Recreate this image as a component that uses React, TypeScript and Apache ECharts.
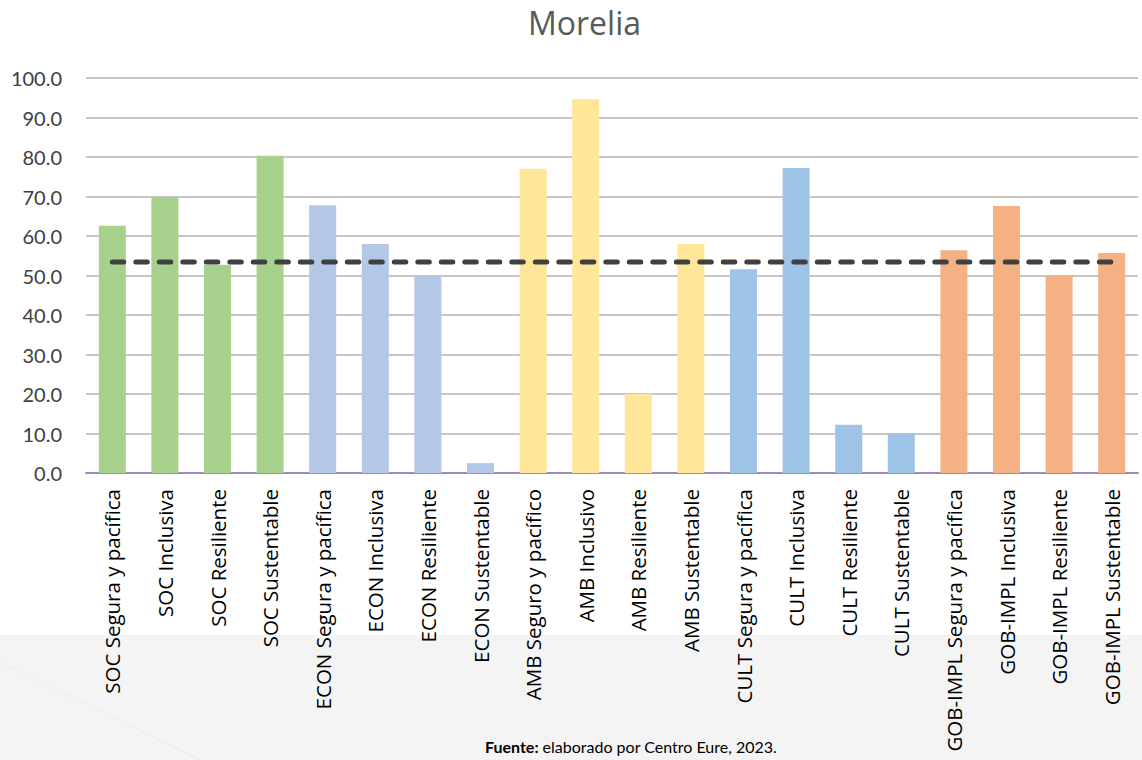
import React, { useEffect, useRef } from "react";
import * as echarts from "echarts";

const categories = [
  "SOC Segura y pacífica",
  "SOC Inclusiva",
  "SOC Resiliente",
  "SOC Sustentable",
  "ECON Segura y pacífica",
  "ECON Inclusiva",
  "ECON Resiliente",
  "ECON Sustentable",
  "AMB Seguro y pacífico",
  "AMB Inclusivo",
  "AMB Resiliente",
  "AMB Sustentable",
  "CULT Segura y pacífica",
  "CULT Inclusiva",
  "CULT Resiliente",
  "CULT Sustentable",
  "GOB-IMPL Segura y pacífica",
  "GOB-IMPL Inclusiva",
  "GOB-IMPL Resiliente",
  "GOB-IMPL Sustentable",
];

const scores = [
  62.6, 69.9, 52.7, 80.3,
  67.8, 58.0, 50.1, 2.5,
  77.0, 94.6, 20.0, 58.0,
  51.6, 77.2, 12.2, 10.0,
  56.4, 67.6, 50.0, 55.7,
];

const averageLine = [
  53.4, 53.4, 53.4, 53.4, 53.4, 53.4, 53.4, 53.4, 53.4, 53.4,
  53.4, 53.4, 53.4, 53.4, 53.4, 53.4, 53.4, 53.4, 53.4, 53.4,
];

// one colour per dimension, four indicators each
const dimensionColors = ["#A9D18E", "#B4C7E7", "#FFE699", "#9DC3E6", "#F4B183"];

const yTicks = { min: 0, max: 100, interval: 10 };

const FONT = "'Open Sans', 'Noto Sans', sans-serif";
const NUM_FONT = "Lato, 'Open Sans', sans-serif";

export default function App() {
  const ref = useRef<HTMLDivElement>(null);

  useEffect(() => {
    document.body.style.margin = "0";
    const chart = echarts.init(ref.current!, null, { renderer: "svg" });
    chart.setOption({
      animation: false,
      backgroundColor: "#ffffff",
      textStyle: { fontFamily: FONT },
      title: {
        text: "Morelia",
        left: 523,
        top: 1,
        textStyle: { fontSize: 32, fontWeight: "normal", color: "#595959", fontFamily: FONT },
      },
      graphic: [
        {
          type: "rect",
          z: -10,
          silent: true,
          shape: { x: 0, y: 635, width: 1142, height: 125 },
          style: { fill: "#f4f4f4" },
        },
        {
          type: "line",
          z: -9,
          silent: true,
          shape: { x1: 0, y1: 662, x2: 200, y2: 760 },
          style: { stroke: "#ebebeb", lineWidth: 1 },
        },
        {
          type: "text",
          left: 485,
          top: 738,
          style: {
            text: "{b|Fuente:} elaborado por Centro Eure, 2023.",
            rich: {
              b: { fontWeight: "bold", fontSize: 16, fill: "#000", fontFamily: NUM_FONT },
            },
            fontSize: 16,
            fill: "#000",
            fontFamily: NUM_FONT,
          },
        },
      ],
      grid: { left: 86, right: 4, top: 78, bottom: 287, containLabel: false },
      xAxis: {
        type: "category",
        data: categories,
        axisLine: { show: true, lineStyle: { color: "#9E8BC2", width: 2 } },
        axisTick: { show: false },
        axisLabel: {
          interval: 0,
          rotate: 90,
          margin: 16,
          fontSize: 20.5,
          color: "#000000",
          fontFamily: FONT,
        },
      },
      yAxis: {
        type: "value",
        min: yTicks.min,
        max: yTicks.max,
        interval: yTicks.interval,
        axisLine: { show: false },
        axisTick: { show: false },
        splitLine: { lineStyle: { color: "#B3B3B3", width: 1.5 } },
        axisLabel: {
          formatter: (v: number) => v.toFixed(1),
          fontSize: 20,
          color: "#404040",
          margin: 24,
          fontFamily: NUM_FONT,
        },
      },
      series: [
        {
          type: "bar",
          data: scores.map((v, i) => ({
            value: v,
            itemStyle: { color: dimensionColors[Math.floor(i / 4)] },
          })),
          barWidth: 27,
          z: 2,
        },
        {
          type: "line",
          data: averageLine,
          symbol: "none",
          z: 3,
          lineStyle: { color: "#404040", width: 5, type: [11.5, 12], cap: "round" },
        },
      ],
    });
    return () => chart.dispose();
  }, []);

  return <div ref={ref} style={{ width: 1142, height: 760 }} />;
}
